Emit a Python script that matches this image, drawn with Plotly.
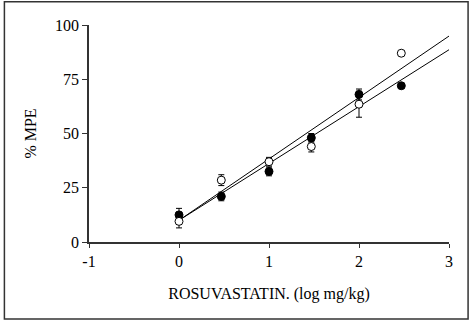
import plotly.graph_objects as go
import numpy as np

dose_log = [0, 0.47, 1, 1.47, 2, 2.47]
mpe_filled = [12.5, 21, 32.5, 48, 68, 72]
err_filled = [3, 2, 2, 2, 2.5, 1]
mpe_open = [9.5, 28.5, 37, 44, 63.5, 87]
err_open = [3, 2.5, 2, 2.5, 6, 1]
fit_x = [0, 3]
fit_intercepts = [10, 10]
fit_slopes = [28.3, 26.2]
x_ticks = [-1, 0, 1, 2, 3]
x_ticktext = ["-1", "0", "1", "2", "3"]
y_ticks = [0, 25, 50, 75, 100]

fig = go.Figure()
for b, m in zip(fit_intercepts, fit_slopes):
    fx = np.array(fit_x, dtype=float)
    fig.add_trace(go.Scatter(x=fx, y=b + m * fx, mode="lines",
                             line=dict(color="black", width=1), showlegend=False))

fig.add_trace(go.Scatter(x=dose_log, y=mpe_filled, mode="markers",
                         marker=dict(symbol="circle", size=8, color="black",
                                     line=dict(color="black", width=1)),
                         error_y=dict(type="data", array=err_filled, color="black",
                                      thickness=1, width=3),
                         showlegend=False))
fig.add_trace(go.Scatter(x=dose_log, y=mpe_open, mode="markers",
                         marker=dict(symbol="circle", size=8, color="white",
                                     line=dict(color="black", width=1)),
                         error_y=dict(type="data", array=err_open, color="black",
                                      thickness=1, width=3),
                         showlegend=False))

font = dict(family="Liberation Serif", size=16, color="black")
fig.update_layout(
    width=469, height=326,
    margin=dict(l=89, r=20, t=25, b=84),
    paper_bgcolor="white", plot_bgcolor="white",
    font=font,
    xaxis=dict(range=[-1, 3], tickvals=x_ticks, ticktext=x_ticktext,
               showgrid=False, zeroline=False,
               showline=True, linecolor="#333", linewidth=1.5,
               ticks="outside", ticklen=4, tickcolor="#333",
               title=dict(text="ROSUVASTATIN. (log mg/kg)", font=font, standoff=19)),
    yaxis=dict(range=[0, 100], tickvals=y_ticks, showgrid=False, zeroline=False,
               showline=True, linecolor="#333", linewidth=1.5,
               ticks="outside", ticklen=5, tickcolor="#333",
               title=dict(text="% MPE", font=font, standoff=14)),
    shapes=[dict(type="rect", xref="paper", yref="paper",
                 x0=-0.235, x1=1.053, y0=-0.355, y1=1.107,
                 line=dict(color="#333", width=1.5))],
)
fig.write_html("out.html", config={"displayModeBar": False},
               post_script="document.body.style.margin='0';")
